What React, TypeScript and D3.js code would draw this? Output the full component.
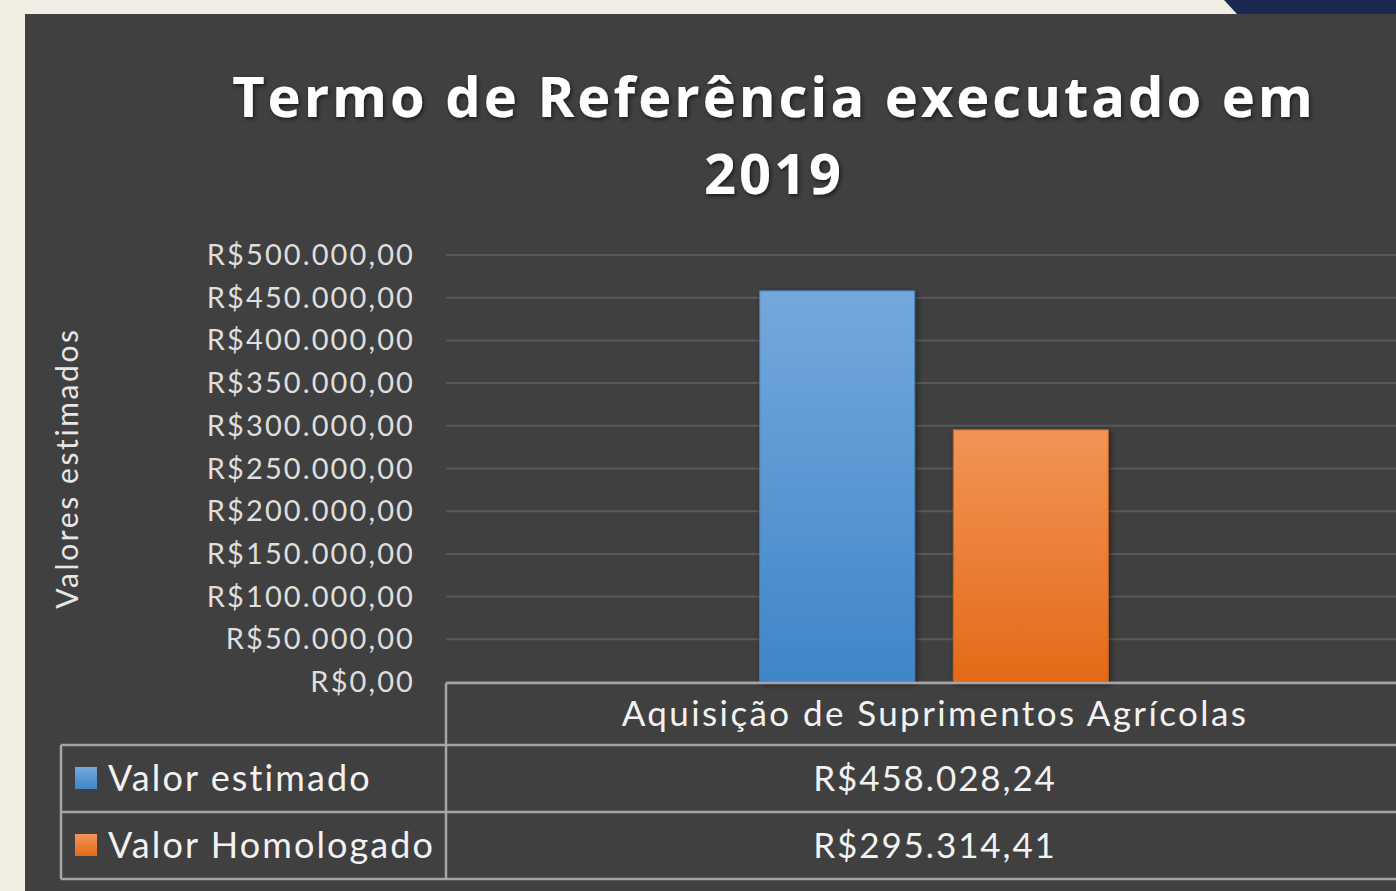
import React from "react";
import * as d3 from "d3";

const categories = ["Aquisição de Suprimentos Agrícolas"];
const seriesNames = ["Valor estimado", "Valor Homologado"];
const seriesValues = [458028.24, 295314.41];
const valueLabels = ["R$458.028,24", "R$295.314,41"];
const yTicks = [0, 50000, 100000, 150000, 200000, 250000, 300000, 350000, 400000, 450000, 500000];
const titleLines = ["Termo de Referência executado em", "2019"];
const yAxisTitle = "Valores estimados";

const W = 1396;
const H = 891;
const FONT = "Lato, 'Open Sans', sans-serif";

const fmtTick = (v: number) => {
  const s = d3.format(",.2f")(v);
  return "R$" + s.replace(/,/g, "#").replace(/\./g, ",").replace(/#/g, ".");
};

export default function App() {
  const plotLeft = 446;
  const plotRight = 1422;
  const yTop = 255;
  const yBottom = 682;

  const y = d3.scaleLinear().domain([0, 500000]).range([yBottom, yTop]);
  const x0 = d3.scaleBand<string>().domain(categories).range([plotLeft, plotRight]).paddingInner(0).paddingOuter(0.9);
  const x1 = d3.scaleBand<string>().domain(seriesNames).range([0, x0.bandwidth()]).paddingInner(0.2).paddingOuter(0);

  const grads = [
    { id: "gBlue", top: "#74a8dd", bottom: "#3f86c8", stroke: "#4a7fb8" },
    { id: "gOrange", top: "#f39457", bottom: "#e36a18", stroke: "#c8641f" },
  ];

  const rowTops = [745, 812];
  const rowBottom = 879;
  const tableLeft = 61;
  const lineColor = "#a6a6a6";
  const catCenter = (x0(categories[0]) as number) + x0.bandwidth() / 2;

  return (
    <svg width={W} height={H} style={{ position: "absolute", left: 0, top: 0 }}>
      <defs>
        {grads.map((g) => (
          <linearGradient key={g.id} id={g.id} x1="0" y1="0" x2="0" y2="1">
            <stop offset="0%" stopColor={g.top} />
            <stop offset="100%" stopColor={g.bottom} />
          </linearGradient>
        ))}
        <filter id="shadow" x="-20%" y="-20%" width="140%" height="140%">
          <feDropShadow dx="2" dy="2" stdDeviation="3" floodColor="#000" floodOpacity="0.45" />
        </filter>
        <filter id="tshadow" x="-5%" y="-20%" width="110%" height="150%">
          <feDropShadow dx="1.5" dy="2" stdDeviation="2" floodColor="#000" floodOpacity="0.6" />
        </filter>
      </defs>
      <rect x={0} y={0} width={W} height={H} fill="#f0eee2" />
      <polygon points="1224,0 1396,0 1396,14 1237,14" fill="#1a2852" />
      <rect x={25} y={14} width={W - 25} height={H - 14} fill="#404040" />

      {/* title */}
      <g filter="url(#tshadow)">
        {titleLines.map((t, i) => (
          <text
            key={i}
            x={774}
            y={117 + i * 77}
            textAnchor="middle"
            fill="#ffffff"
            fontFamily="'Open Sans', sans-serif"
            fontWeight={700}
            fontSize={56}
            letterSpacing={3}
          >
            {t}
          </text>
        ))}
      </g>

      {/* gridlines */}
      {yTicks.map((t) => (
        <line key={"g" + t} x1={plotLeft} x2={W} y1={y(t)} y2={y(t)} stroke="#595959" strokeWidth={2} />
      ))}

      {/* y tick labels */}
      {yTicks.map((t) => (
        <text key={"t" + t} x={415} y={y(t) + 10} textAnchor="end" fill="#dedede" fontFamily={FONT} fontSize={29} letterSpacing={2.1}>
          {fmtTick(t)}
        </text>
      ))}

      {/* y axis title */}
      <text
        transform={`translate(78, 468) rotate(-90)`}
        textAnchor="middle"
        fill="#e6e6e6"
        fontFamily={FONT}
        fontSize={30}
        letterSpacing={2.6}
      >
        {yAxisTitle}
      </text>

      {/* bars */}
      {seriesNames.map((s, i) => {
        const bx = (x0(categories[0]) as number) + (x1(s) as number);
        return (
          <rect
            key={s}
            x={bx}
            y={y(seriesValues[i])}
            width={x1.bandwidth()}
            height={yBottom - y(seriesValues[i])}
            fill={`url(#${grads[i].id})`}
            stroke={grads[i].stroke}
            strokeWidth={1}
            filter="url(#shadow)"
          />
        );
      })}

      {/* data table */}
      <g stroke={lineColor} strokeWidth={2.5} fill="none">
        <line x1={plotLeft} x2={W} y1={yBottom + 1} y2={yBottom + 1} />
        <line x1={plotLeft} x2={plotLeft} y1={yBottom + 1} y2={rowBottom} />
        {rowTops.map((ry) => (
          <line key={ry} x1={tableLeft} x2={W} y1={ry} y2={ry} />
        ))}
        <line x1={tableLeft} x2={W} y1={rowBottom} y2={rowBottom} />
        <line x1={tableLeft} x2={tableLeft} y1={rowTops[0]} y2={rowBottom} />
      </g>

      <text x={catCenter + 1} y={726} textAnchor="middle" fill="#f2f2f2" fontFamily={FONT} fontSize={35} letterSpacing={2.4}>
        {categories[0]}
      </text>

      {seriesNames.map((s, i) => (
        <g key={"row" + s}>
          <rect x={75} y={rowTops[i] + 22} width={22} height={22} fill={`url(#${grads[i].id})`} />
          <text x={108} y={rowTops[i] + 46} fill="#f2f2f2" fontFamily={FONT} fontSize={36} letterSpacing={2.1}>
            {s}
          </text>
          <text x={catCenter + 1} y={rowTops[i] + 46} textAnchor="middle" fill="#f2f2f2" fontFamily={FONT} fontSize={35} letterSpacing={1.9}>
            {valueLabels[i]}
          </text>
        </g>
      ))}
    </svg>
  );
}
